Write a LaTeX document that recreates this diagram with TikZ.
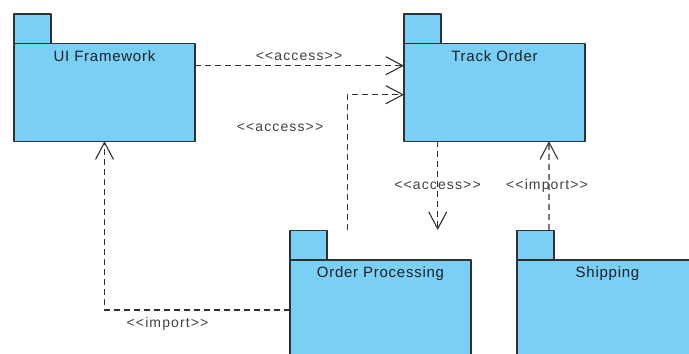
\documentclass[tikz,border=0pt]{standalone}
\usepackage{fontspec}
\usetikzlibrary{arrows.meta}
\newfontfamily\pkgfont[LetterSpace=5]{Liberation Sans}
\newfontfamily\stfont[LetterSpace=8]{Liberation Sans}
\newcommand{\stype}[1]{\textless\textless#1\textgreater\textgreater}
\definecolor{pkgfill}{RGB}{122,207,244}
\definecolor{pkgline}{RGB}{48,48,48}
\definecolor{pkgtext}{RGB}{30,32,40}
\definecolor{sttext}{RGB}{64,64,64}
\begin{document}
\begin{tikzpicture}[>={Straight Barb[length=17bp,width=18bp]},line join=bevel,
  pkg/.style={draw=pkgline,fill=pkgfill,line width=1.2bp,inner sep=0pt,outer sep=0pt,
    minimum width=181bp,minimum height=98bp},
  pkgtab/.style={draw=pkgline,fill=pkgfill,line width=1.2bp,inner sep=0pt,outer sep=0pt,
    minimum width=37bp,minimum height=29.3bp,anchor=south west},
  pkgname/.style={font=\pkgfont\fontsize{15bp}{18bp}\selectfont,text=pkgtext,anchor=base,yshift=-18bp},
  dep/.style={pkgline,line width=1.1bp,dash pattern=on 6bp off 4bp,->},
  stereo/.style={font=\stfont\fontsize{14bp}{17bp}\selectfont,text=sttext,inner sep=0pt},
]
\clip (0,0) rectangle (689bp,354bp);
%%
\node (node_uif) at (104.5bp,261.7bp) [pkg,label={[pkgname,name=name_uif]north:UI Framework}] {};
  \node (tab_uif) at (node_uif.north west) [pkgtab] {};
  \node (node_track) at (494.5bp,261.7bp) [pkg,label={[pkgname,name=name_track]north:Track Order}] {};
  \node (tab_track) at (node_track.north west) [pkgtab] {};
  \node (node_proc) at (380.5bp,45bp) [pkg,label={[pkgname,name=name_proc]north:Order Processing}] {};
  \node (tab_proc) at (node_proc.north west) [pkgtab] {};
  \node (node_ship) at (607.5bp,45bp) [pkg,label={[pkgname,name=name_ship]north:Shipping}] {};
  \node (tab_ship) at (node_ship.north west) [pkgtab] {};
%
  \coordinate (cor_proc_out) at (347.3bp,124bp);
  \coordinate (cor_proc_in) at (437.7bp,124bp);
  \coordinate (cor_ship_out) at (549bp,124bp);
  \draw [dep] ([yshift=-22.4bp]node_uif.north east) -- ([yshift=-22.4bp]node_track.north west);
  \draw [dep] (cor_proc_out) |- ([yshift=-51.4bp]node_track.north west);
  \draw [dep] ([xshift=-56.8bp]node_track.south) -- (cor_proc_in);
  \draw [dep] (cor_ship_out) -- ([xshift=54.5bp]node_track.south);
  \draw [dep] ([yshift=-1bp]node_proc.west) -| (node_uif.south);
%
  \node (st_uif_track) at (299bp,298bp) [stereo] {\stype{access}};
  \node (st_proc_track) at (280bp,227bp) [stereo] {\stype{access}};
  \node (st_track_proc) at (437.5bp,168.5bp) [stereo] {\stype{access}};
  \node (st_ship_track) at (547bp,168.5bp) [stereo] {\stype{import}};
  \node (st_proc_uif) at (167.5bp,30bp) [stereo] {\stype{import}};
%
\end{tikzpicture}
\end{document}
